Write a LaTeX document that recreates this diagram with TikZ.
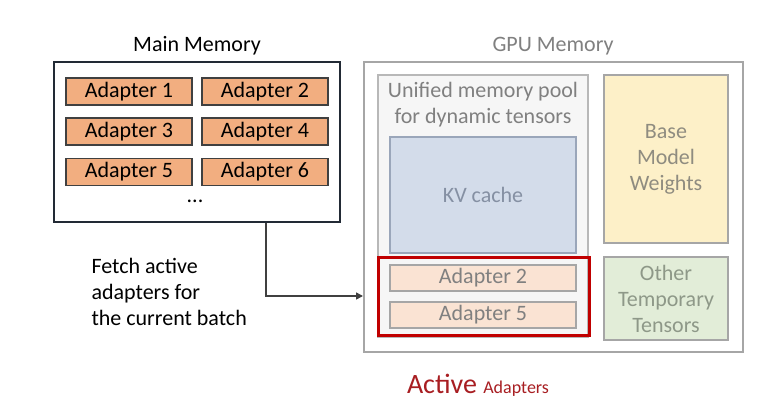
\documentclass[tikz,border=0pt]{standalone}
\usepackage{fontspec}
\setmainfont{Carlito}
\usetikzlibrary{calc,arrows.meta}

\definecolor{mainline}{HTML}{222A35}
\definecolor{adapterfill}{HTML}{F2AE80}
\definecolor{adapterline}{HTML}{404040}
\definecolor{gpuline}{HTML}{A6A6A6}
\definecolor{gputext}{HTML}{808080}
\definecolor{poolfill}{HTML}{F6F6F6}
\definecolor{kvfill}{HTML}{D3DCEA}
\definecolor{kvline}{HTML}{9AA6BA}
\definecolor{kvtext}{HTML}{8590A3}
\definecolor{activefill}{HTML}{FAE3D3}
\definecolor{basefill}{HTML}{FDF0C8}
\definecolor{basetext}{HTML}{8F8C80}
\definecolor{otherfill}{HTML}{E2EDD8}
\definecolor{othertext}{HTML}{8E9888}
\definecolor{activered}{HTML}{C00000}
\definecolor{labelred}{HTML}{A81E22}

\tikzset{
  txt/.style={font=\fontsize{22}{26}\selectfont},
  box/.style={rectangle, inner sep=0pt, align=center, txt},
  adapter/.style={box, draw=adapterline, fill=adapterfill, line width=1.5pt,
    minimum width=126, minimum height=27},
  gpuadapter/.style={box, draw=gpuline, fill=activefill, line width=1.5pt,
    text=gputext, minimum width=186, minimum height=26},
}

\begin{document}
\begin{tikzpicture}[x=1pt,y=-1pt]
\useasboundingbox[fill=white] (0,0) rectangle (762,416);

% main memory
\node[txt] (maintitle) at (197,46) {Main Memory};
\node[box, draw=mainline, line width=2.5pt, minimum width=286, minimum height=160] (mainmem) at (197,142) {};
\node[adapter] (ad1) at (129,91.5) {Adapter 1};
\node[adapter] (ad2) at (265,91.5) {Adapter 2};
\node[adapter] (ad3) at (129,131.5) {Adapter 3};
\node[adapter] (ad4) at (265,131.5) {Adapter 4};
\node[adapter] (ad5) at (129,172) {Adapter 5};
\node[adapter] (ad6) at (265,172) {Adapter 6};
\node[txt] (dots) at (195,201) {...};

% gpu memory
\node[txt, text=gputext] (gputitle) at (553,46) {GPU Memory};
\node[box, draw=gpuline, line width=2pt, minimum width=379, minimum height=290] (gpumem) at (553.5,207) {};
\node[box, draw=gpuline!80, fill=poolfill, line width=1.5pt, minimum width=210, minimum height=262] (pool) at (483,206) {};
\node[txt, text=gputext, align=center] (pooltext) at (483,105) {Unified memory pool\\for dynamic tensors};
\node[box, draw=kvline, fill=kvfill, line width=1.5pt, text=kvtext, minimum width=186, minimum height=116] (kv) at (483,195) {KV cache};
\node[box, draw=activered, line width=3pt, minimum width=211, minimum height=78] (redbox) at (483.5,296) {};
\node[gpuadapter] (gad2) at (483,278) {Adapter 2};
\node[gpuadapter] (gad5) at (483,315) {Adapter 5};
\node[box, draw=gpuline, fill=basefill, line width=1.5pt, text=basetext, minimum width=124, minimum height=168] (base) at (666,159) {Base\\Model\\Weights};
\node[box, draw=gpuline, fill=otherfill, line width=1.5pt, text=othertext, minimum width=124, minimum height=83] (other) at (666,298.5) {Other\\Temporary\\Tensors};

% fetch arrow
\draw[adapterline, line width=1.5pt, -{Triangle[length=7,width=7]}]
  ($(mainmem.south west)!0.74!(mainmem.south east)$) |- (gpumem.west |- redbox.center);
\node[txt, anchor=west, align=left] (fetch) at (88,292) {Fetch active\\adapters for\\the current batch};

\node[text=labelred] (activelbl) at (478,385) {\fontsize{28}{30}\selectfont Active \fontsize{18}{20}\selectfont Adapters};
\end{tikzpicture}
\end{document}
